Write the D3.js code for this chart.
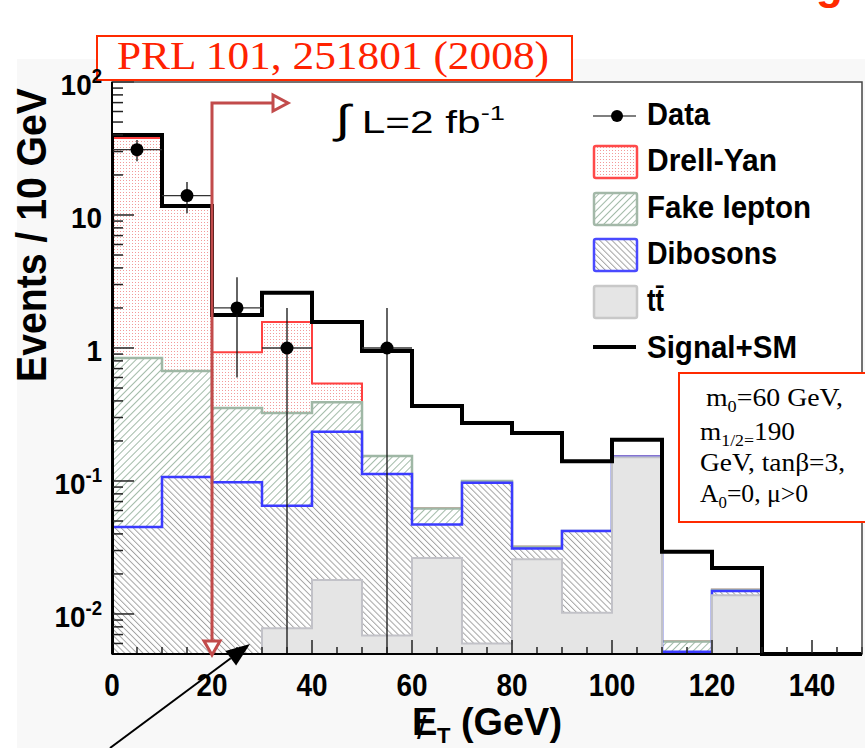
<!DOCTYPE html>
<html lang="en">
<head>
<meta charset="utf-8">
<title>MET distribution</title>
<script src="https://d3js.org/d3.v7.min.js"></script>
<style>
  body { margin: 0; background: #fff; }
  .sans { font-family: "Liberation Sans", Arial, Helvetica, sans-serif; }
  .serif { font-family: "Liberation Serif", "Times New Roman", serif; }
  .tick { stroke: #222; stroke-width: 1.5px; }
</style>
</head>
<body>
<svg width="865" height="748"></svg>
<script>

// ---- data (stack tops, events / 10 GeV) ----
var binLow = [0, 10, 20, 30, 40, 50, 60, 70, 80, 90, 100, 110, 120, 130, 140];
var signalSM     = [40, 11.7, 1.77, 2.6, 1.57, 0.95, 0.366, 0.273, 0.229, 0.141, 0.204, 0.0294, 0.0222, 0, 0];
var dyStack      = [38, 11.5, 0.93, 1.57, 0.54, 0.154, 0.062, 0.1, 0.032, 0.042, 0.153, 0.0062, 0.0152, 0, 0];
var fakeStack    = [0.84, 0.67, 0.354, 0.325, 0.39, 0.154, 0.062, 0.1, 0.032, 0.042, 0.152, 0.0062, 0.0152, 0, 0];
var dibosonStack = [0.045, 0.107, 0.098, 0.065, 0.234, 0.113, 0.047, 0.097, 0.031, 0.042, 0.152, 0.0052, 0.0149, 0, 0];
var ttbarStack   = [0, 0, 0, 0.0078, 0.018, 0.0069, 0.0263, 0.006, 0.0258, 0.0102, 0.151, 0, 0.0138, 0, 0];

var dataX   = [5, 15, 25, 35, 55];
var dataY   = [31, 14, 2, 1, 1];
var dataErr = [5.6, 3.7, 1.4, 1, 1];

var xTicks = [0, 20, 40, 60, 80, 100, 120, 140];
var yTickBase = ["10", "10", "1", "10", "10"];
var yTickExp  = ["-2", "-1", "", "", "2"];
var yTickVal  = [0.01, 0.1, 1, 10, 100];

var legendNames = ["Data", "Drell-Yan", "Fake lepton", "Dibosons", "tt\u0304", "Signal+SM"];
var legendWidths = [63, 130, 164, 130, 17, 150];

var svg = d3.select("svg");
var yMin = 0.005, yMax = 100, binW = 10;

var x = d3.scaleLinear().domain([0, 150]).range([112, 862]);
var y = d3.scaleLog().domain([yMin, yMax]).range([654, 82]);
function yc(v) { return v <= yMin ? y(yMin) : y(v); }

// ---- backgrounds ----
svg.append("rect").attr("width", 865).attr("height", 748).attr("fill", "#fff");
svg.append("rect").attr("x", 17).attr("y", 59).attr("width", 848).attr("height", 689).attr("fill", "#f8f8f8");
svg.append("rect").attr("x", x(0)).attr("y", y(yMax)).attr("width", x(150) - x(0)).attr("height", y(yMin) - y(yMax)).attr("fill", "#fff");

// ---- patterns ----
var defs = svg.append("defs");
var p = defs.append("pattern").attr("id", "dy").attr("patternUnits", "userSpaceOnUse").attr("width", 3).attr("height", 3);
p.append("rect").attr("width", 3).attr("height", 3).attr("fill", "#fff");
p.append("rect").attr("width", 1).attr("height", 1).attr("fill", "#f29a9a");

p = defs.append("pattern").attr("id", "fake").attr("patternUnits", "userSpaceOnUse")
  .attr("width", 5).attr("height", 5).attr("patternTransform", "rotate(45)");
p.append("rect").attr("width", 5).attr("height", 5).attr("fill", "#fff");
p.append("line").attr("x1", 0.5).attr("y1", 0).attr("x2", 0.5).attr("y2", 5).attr("stroke", "#a3bba9").attr("stroke-width", 1);

p = defs.append("pattern").attr("id", "dibo").attr("patternUnits", "userSpaceOnUse")
  .attr("width", 4.3).attr("height", 4.3).attr("patternTransform", "rotate(-45)");
p.append("rect").attr("width", 4.3).attr("height", 4.3).attr("fill", "#fff");
p.append("line").attr("x1", 0.5).attr("y1", 0).attr("x2", 0.5).attr("y2", 4.3).attr("stroke", "#9c9c9c").attr("stroke-width", 0.9);

defs.append("clipPath").attr("id", "frame").append("rect")
  .attr("x", x(0)).attr("y", y(yMax)).attr("width", x(150) - x(0)).attr("height", y(yMin) - y(yMax) + 2);

// step outline of a histogram
function stepLine(vals) {
  var s = "M" + x(0) + "," + y(yMin);
  vals.forEach(function(v, i) {
    s += "L" + x(binLow[i]) + "," + yc(v) + "L" + x(binLow[i] + binW) + "," + yc(v);
  });
  return s + "L" + x(150) + "," + y(yMin);
}

var plot = svg.append("g").attr("clip-path", "url(#frame)");

var stacks = [
  { vals: dyStack, fill: "url(#dy)", stroke: "#ff4040", w: 2 },
  { vals: fakeStack, fill: "url(#fake)", stroke: "#9fb7a5", w: 2.5 },
  { vals: dibosonStack, fill: "url(#dibo)", stroke: "#3b3bff", w: 2.5 },
  { vals: ttbarStack, fill: "#e5e5e5", stroke: "#c2c2c8", w: 2 }
];
stacks.forEach(function(h) {
  plot.append("path").attr("d", stepLine(h.vals) + "Z").attr("fill", h.fill);
  plot.append("path").attr("d", stepLine(h.vals)).attr("fill", "none")
    .attr("stroke", h.stroke).attr("stroke-width", h.w);
});

plot.append("path").attr("d", stepLine(signalSM)).attr("fill", "none")
  .attr("stroke", "#000").attr("stroke-width", 4);

// data points with errors
var pts = plot.append("g");
dataX.forEach(function(dx, i) {
  pts.append("line").attr("x1", x(dx)).attr("x2", x(dx))
    .attr("y1", yc(dataY[i] + dataErr[i])).attr("y2", yc(dataY[i] - dataErr[i]))
    .attr("stroke", "#111").attr("stroke-width", 1.3);
  pts.append("line").attr("x1", x(dx - binW / 2)).attr("x2", x(dx + binW / 2))
    .attr("y1", y(dataY[i])).attr("y2", y(dataY[i]))
    .attr("stroke", "#333").attr("stroke-width", 1.3);
  pts.append("circle").attr("cx", x(dx)).attr("cy", y(dataY[i])).attr("r", 6.5).attr("fill", "#000");
});

// ---- reference box (under the axis labels) ----
svg.append("rect").attr("x", 97).attr("y", 36).attr("width", 475).attr("height", 44)
  .attr("fill", "#fff").attr("stroke", "#ff2a00").attr("stroke-width", 2);
svg.append("text").attr("class", "serif").attr("x", 117).attr("y", 69).attr("font-size", 40)
  .attr("fill", "#ff2200").attr("textLength", 432).attr("lengthAdjust", "spacingAndGlyphs")
  .text("PRL 101, 251801 (2008)");
svg.append("text").attr("class", "sans").attr("x", 816).attr("y", -1).attr("font-size", 44)
  .attr("font-weight", "bold").attr("fill", "#ff2a00").text("g");

// ---- axes / ticks ----
var ax = svg.append("g");
var minorY = [];
[-3, -2, -1, 0, 1].forEach(function(k) {
  for (var m = 2; m <= 9; m++) {
    var v = m * Math.pow(10, k);
    if (v > yMin && v < yMax) minorY.push(v);
  }
});
ax.selectAll(".ymin").data(minorY).enter().append("line").attr("class", "tick")
  .attr("x1", x(0)).attr("x2", x(0) + 11).attr("y1", function(d) { return y(d); }).attr("y2", function(d) { return y(d); });
ax.selectAll(".ymaj").data(yTickVal).enter().append("line").attr("class", "tick")
  .attr("x1", x(0)).attr("x2", x(0) + 22).attr("y1", function(d) { return y(d); }).attr("y2", function(d) { return y(d); });

var xMinor = d3.range(0, 151, 5);
ax.selectAll(".xt").data(xMinor).enter().append("line").attr("class", "tick")
  .attr("x1", function(d) { return x(d); }).attr("x2", function(d) { return x(d); })
  .attr("y1", y(yMin)).attr("y2", function(d) { return y(yMin) - (d % 20 === 0 ? 14 : 7); });

svg.append("rect").attr("x", x(0)).attr("y", y(yMax)).attr("width", x(150) - x(0)).attr("height", y(yMin) - y(yMax))
  .attr("fill", "none").attr("stroke", "#444").attr("stroke-width", 1.5);
svg.append("line").attr("x1", x(0)).attr("x2", x(0)).attr("y1", y(yMax)).attr("y2", y(yMin)).attr("stroke", "#000").attr("stroke-width", 2);
svg.append("line").attr("x1", x(0)).attr("x2", x(150)).attr("y1", y(yMin)).attr("y2", y(yMin)).attr("stroke", "#000").attr("stroke-width", 2);

function squeeze(sel, f) {
  sel.each(function() {
    var n = this.getComputedTextLength();
    d3.select(this).attr("textLength", n * f).attr("lengthAdjust", "spacingAndGlyphs");
  });
}

var xl = ax.selectAll(".xl").data(xTicks).enter().append("text").attr("class", "sans")
  .attr("x", function(d) { return x(d); }).attr("y", 696).attr("text-anchor", "middle")
  .attr("font-size", 31).attr("font-weight", "bold").text(function(d) { return d; });
squeeze(xl, 0.9);

yTickVal.forEach(function(v, i) {
  var t = ax.append("text").attr("class", "sans").attr("x", 102).attr("y", y(v) + 13)
    .attr("text-anchor", "end").attr("font-size", 30).attr("font-weight", "bold");
  t.append("tspan").text(yTickBase[i]);
  if (yTickExp[i]) t.append("tspan").attr("font-size", 20).attr("dy", -12).text(yTickExp[i]);
  squeeze(t, 0.93);
});

svg.append("text").attr("class", "sans").attr("transform", "translate(46,235) rotate(-90)")
  .attr("text-anchor", "middle").attr("font-size", 42).attr("font-weight", "bold")
  .attr("textLength", 294).attr("lengthAdjust", "spacingAndGlyphs").text("Events / 10 GeV");

var xt = svg.append("g").attr("class", "sans").attr("font-weight", "bold");
xt.append("text").attr("x", 412).attr("y", 735).attr("font-size", 38).text("E");
xt.append("text").attr("x", 417).attr("y", 739).attr("font-size", 34).attr("font-weight", "normal").text("/");
xt.append("text").attr("x", 437).attr("y", 743).attr("font-size", 22).text("T");
xt.append("text").attr("x", 461).attr("y", 735).attr("font-size", 38)
  .attr("textLength", 101).attr("lengthAdjust", "spacingAndGlyphs").text("(GeV)");

// ---- legend ----
var lg = svg.append("g");
var lgBase = [125, 171, 218, 264, 311, 358];
lg.append("line").attr("x1", 593).attr("x2", 636).attr("y1", 116).attr("y2", 116).attr("stroke", "#555").attr("stroke-width", 1.5);
lg.append("circle").attr("cx", 617).attr("cy", 116).attr("r", 6).attr("fill", "#000");
var boxFill = ["url(#dy)", "url(#fake)", "url(#dibo)", "#e5e5e5"];
var boxStroke = ["#ff4a4a", "#a3b8a8", "#4a4aff", "#c8c8c8"];
boxFill.forEach(function(f, i) {
  lg.append("rect").attr("x", 594).attr("y", lgBase[i + 1] - 25).attr("width", 43).attr("height", 32).attr("rx", 2)
    .attr("fill", f).attr("stroke", boxStroke[i]).attr("stroke-width", 2.5);
});
lg.append("line").attr("x1", 593).attr("x2", 636).attr("y1", 347).attr("y2", 347).attr("stroke", "#000").attr("stroke-width", 4);
legendNames.forEach(function(n, i) {
  lg.append("text").attr("class", "sans").attr("x", 647).attr("y", lgBase[i])
    .attr("font-size", 32).attr("font-weight", "bold")
    .attr("textLength", legendWidths[i]).attr("lengthAdjust", "spacingAndGlyphs").text(n);
});

// ---- luminosity label ----
var lum = svg.append("text").attr("class", "sans").attr("x", 335).attr("y", 133).attr("font-size", 31)
  .attr("textLength", 170).attr("lengthAdjust", "spacingAndGlyphs");
lum.append("tspan").attr("font-size", 40).text("\u222B");
lum.append("tspan").text(" L=2 fb");
lum.append("tspan").attr("font-size", 20).attr("dy", -13).text("-1");

// ---- cut arrow ----
var red = "#c24b4b";
var ar = svg.append("g").attr("stroke", red).attr("stroke-width", 3).attr("fill", "none");
ar.append("path").attr("d", "M" + x(20) + "," + 641 + "V103H273");
ar.append("path").attr("d", "M" + (x(20) - 8) + ",641H" + (x(20) + 8) + "L" + x(20) + ",655Z").attr("fill", "#fff");
ar.append("path").attr("d", "M273,95V111L288,103Z").attr("fill", "#fff");

// ---- black pointer arrow ----
var tip = [250, 644], tail = [110, 748];
var ang = Math.atan2(tip[1] - tail[1], tip[0] - tail[0]);
var hl = 24, hw = 9;
var bx = tip[0] - hl * Math.cos(ang), by = tip[1] - hl * Math.sin(ang);
svg.append("line").attr("x1", tail[0]).attr("y1", tail[1]).attr("x2", bx).attr("y2", by).attr("stroke", "#000").attr("stroke-width", 2);
svg.append("path").attr("fill", "#000").attr("d",
  "M" + tip[0] + "," + tip[1] +
  "L" + (bx + hw * Math.sin(ang)) + "," + (by - hw * Math.cos(ang)) +
  "L" + (bx - hw * Math.sin(ang)) + "," + (by + hw * Math.cos(ang)) + "Z");

// ---- model parameter box ----
svg.append("rect").attr("x", 679).attr("y", 373).attr("width", 200).attr("height", 149)
  .attr("fill", "#fff").attr("stroke", "#ff2a00").attr("stroke-width", 2);
var pb = svg.append("g").attr("class", "serif").attr("font-size", 26).attr("fill", "#000");
var t1 = pb.append("text").attr("x", 706).attr("y", 406).attr("textLength", 137).attr("lengthAdjust", "spacingAndGlyphs");
t1.append("tspan").text("m");
t1.append("tspan").attr("font-size", 17).attr("dy", 6).text("0");
t1.append("tspan").attr("dy", -6).text("=60 GeV,");
var t2 = pb.append("text").attr("x", 700).attr("y", 440).attr("textLength", 95).attr("lengthAdjust", "spacingAndGlyphs");
t2.append("tspan").text("m");
t2.append("tspan").attr("font-size", 17).attr("dy", 6).text("1/2=");
t2.append("tspan").attr("dy", -6).text("190");
pb.append("text").attr("x", 700).attr("y", 471).attr("textLength", 145).attr("lengthAdjust", "spacingAndGlyphs")
  .text("GeV, tan\u03B2=3,");
var t4 = pb.append("text").attr("x", 700).attr("y", 502).attr("textLength", 108).attr("lengthAdjust", "spacingAndGlyphs");
t4.append("tspan").text("A");
t4.append("tspan").attr("font-size", 17).attr("dy", 6).text("0");
t4.append("tspan").attr("dy", -6).text("=0, \u03BC>0");

</script>
</body>
</html>
